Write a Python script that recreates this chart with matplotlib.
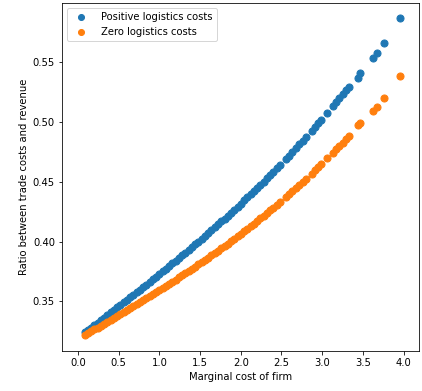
import matplotlib
matplotlib.use("Agg")
import matplotlib.pyplot as plt

# marginal cost of each firm (shared by both series)
mc = [0.08, 0.12, 0.16, 0.20, 0.24, 0.28, 0.32, 0.36, 0.40, 0.44,
      0.48, 0.52, 0.56, 0.60, 0.64, 0.68, 0.72, 0.76, 0.80, 0.84,
      0.88, 0.92, 0.96, 1.00, 1.04, 1.08, 1.12, 1.16, 1.20, 1.24,
      1.28, 1.32, 1.36, 1.40, 1.44, 1.48, 1.52, 1.56, 1.60, 1.64,
      1.68, 1.72, 1.76, 1.80, 1.84, 1.88, 1.92, 1.96, 2.00, 2.04,
      2.08, 2.12, 2.16, 2.20, 2.24, 2.28, 2.32, 2.36, 2.40, 2.44,
      2.48, 2.55, 2.59, 2.63, 2.68, 2.72, 2.76, 2.80, 2.87, 2.91,
      2.95, 2.99, 3.06, 3.13, 3.17, 3.21, 3.25, 3.29, 3.33, 3.44,
      3.47, 3.627, 3.668, 3.758, 3.955]

ratio_positive = [0.3240, 0.3260, 0.3281, 0.3302, 0.3323, 0.3344, 0.3365, 0.3386, 0.3407, 0.3428,
                  0.3449, 0.3470, 0.3491, 0.3512, 0.3533, 0.3555, 0.3576, 0.3598, 0.3619, 0.3641,
                  0.3662, 0.3684, 0.3706, 0.3728, 0.3750, 0.3772, 0.3794, 0.3817, 0.3839, 0.3862,
                  0.3885, 0.3907, 0.3930, 0.3953, 0.3977, 0.4000, 0.4024, 0.4047, 0.4071, 0.4095,
                  0.4119, 0.4143, 0.4168, 0.4192, 0.4217, 0.4242, 0.4267, 0.4293, 0.4318, 0.4344,
                  0.4370, 0.4396, 0.4422, 0.4449, 0.4475, 0.4502, 0.4529, 0.4557, 0.4584, 0.4612,
                  0.4640, 0.4690, 0.4719, 0.4748, 0.4784, 0.4814, 0.4844, 0.4874, 0.4927, 0.4958,
                  0.4989, 0.5020, 0.5072, 0.5132, 0.5165, 0.5198, 0.5231, 0.5265, 0.5294, 0.5370,
                  0.5406, 0.5539, 0.5581, 0.5664, 0.5873]

ratio_zero = [0.3217, 0.3233, 0.3249, 0.3265, 0.3281, 0.3297, 0.3313, 0.3330, 0.3346, 0.3362,
              0.3378, 0.3394, 0.3411, 0.3427, 0.3444, 0.3460, 0.3477, 0.3493, 0.3510, 0.3527,
              0.3544, 0.3561, 0.3578, 0.3595, 0.3612, 0.3630, 0.3647, 0.3665, 0.3682, 0.3700,
              0.3718, 0.3736, 0.3754, 0.3772, 0.3791, 0.3809, 0.3828, 0.3847, 0.3866, 0.3885,
              0.3904, 0.3924, 0.3944, 0.3963, 0.3983, 0.4003, 0.4024, 0.4044, 0.4065, 0.4086,
              0.4107, 0.4128, 0.4150, 0.4172, 0.4193, 0.4216, 0.4238, 0.4260, 0.4283, 0.4306,
              0.4330, 0.4371, 0.4395, 0.4419, 0.4450, 0.4474, 0.4499, 0.4525, 0.4569, 0.4595,
              0.4622, 0.4648, 0.4696, 0.4744, 0.4772, 0.4800, 0.4828, 0.4857, 0.4886, 0.4973,
              0.4988, 0.5089, 0.5128, 0.5197, 0.5386]

fig = plt.figure(figsize=(422 / 72, 391 / 72), dpi=72)
ax = fig.add_axes([62 / 422, 40 / 391, 357 / 422, 348 / 391])

ax.scatter(mc, ratio_positive, s=50, label="Positive logistics costs")
ax.scatter(mc, ratio_zero, s=50, label="Zero logistics costs")

ax.set_xlim(-0.197, 4.19)
ax.set_ylim(0.3085, 0.5995)
ax.set_xticks([0.0, 0.5, 1.0, 1.5, 2.0, 2.5, 3.0, 3.5, 4.0])
ax.set_yticks([0.35, 0.40, 0.45, 0.50, 0.55])
ax.set_xlabel("Marginal cost of firm")
ax.set_ylabel("Ratio between trade costs and revenue")
ax.legend(loc="upper left", markerscale=0.85, handletextpad=1.0)

fig.savefig("out.png", dpi=72)
